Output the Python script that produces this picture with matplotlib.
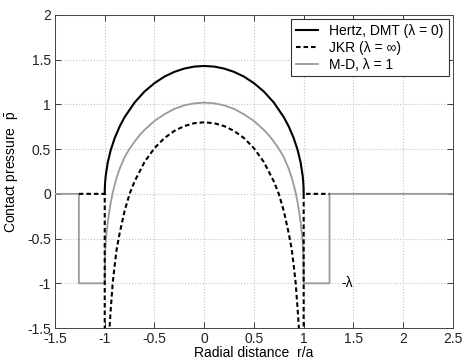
import numpy as np
import matplotlib
matplotlib.use("Agg")
import matplotlib.pyplot as plt

plt.rcParams['font.family'] = ['Liberation Sans', 'DejaVu Sans']
plt.rcParams['mathtext.fontset'] = 'custom'
plt.rcParams['mathtext.rm'] = 'Liberation Sans'

# half profiles (r >= 0); the curves are symmetric about r = 0
r_hertz = [0, 0.1, 0.2, 0.3, 0.4, 0.5, 0.6, 0.7, 0.8, 0.85, 0.9, 0.94, 0.97, 0.99, 0.995, 0.999, 1.0]
p_hertz = [1.43, 1.423, 1.401, 1.364, 1.311, 1.238, 1.144, 1.021, 0.858, 0.753, 0.623, 0.488, 0.348, 0.202, 0.143, 0.064, 0.0]

r_jkr = [0, 0.1, 0.2, 0.3, 0.4, 0.5, 0.6, 0.7, 0.75, 0.8, 0.85, 0.88, 0.9, 0.92, 0.94, 0.955, 0.97]
p_jkr = [0.80, 0.79, 0.758, 0.704, 0.624, 0.511, 0.356, 0.139, 0.0, -0.19, -0.44, -0.62, -0.80, -1.0, -1.3, -1.55, -2.2]

r_md = [0, 0.1, 0.2, 0.3, 0.4, 0.5, 0.6, 0.65, 0.7, 0.75, 0.8, 0.85, 0.88, 0.9, 0.92, 0.94, 0.96, 0.98, 0.99, 0.997, 1.0]
p_md = [1.02, 1.012, 0.99, 0.95, 0.89, 0.815, 0.715, 0.655, 0.585, 0.505, 0.41, 0.28, 0.18, 0.10, 0.01, -0.10, -0.24, -0.42, -0.54, -0.70, -1.0]

lam = 1.0      # adhesive stress in the M-D zone
c_md = 1.26    # outer radius of the M-D adhesive zone
x_lo, x_hi = -1.5, 2.5


def mirror(r, p):
    r = np.asarray(r, float)
    p = np.asarray(p, float)
    return np.concatenate([-r[::-1], r[1:]]), np.concatenate([p[::-1], p[1:]])


xh, yh = mirror(r_hertz, p_hertz)
xj, yj = mirror(r_jkr, p_jkr)
xm, ym = mirror(r_md, p_md)

# JKR: zero outside, infinite tension at the contact edge
xj = np.concatenate([[-c_md, -1, -1], xj, [1, 1, c_md]])
yj = np.concatenate([[0, 0, -2.5], yj, [-2.5, 0, 0]])

# M-D: constant tension -lambda between a and c
xm = np.concatenate([[x_lo, -c_md, -c_md, -1], xm, [1, c_md, c_md, x_hi]])
ym = np.concatenate([[0, 0, -lam, -lam], ym, [-lam, -lam, 0, 0]])

fig = plt.figure(figsize=(4.64, 3.63), dpi=100)
ax = fig.add_axes([0.1185, 0.0964, 0.8575, 0.8623])

l1, = ax.plot(xh, yh, color='black', lw=1.5, zorder=3, label='Hertz, DMT (λ = 0)')
l3, = ax.plot(xm, ym, color='#9a9a9a', lw=1.3, zorder=3, label='M-D, λ = 1')
l2, = ax.plot(xj, yj, color='black', lw=1.5, ls=(0, (2.2, 1.4)), zorder=4, label='JKR (λ = ∞)')

ax.text(1.38, -1.0, '-λ', fontsize=10, va='center', ha='left')

ax.set_xlim(x_lo, x_hi)
ax.set_ylim(-1.5, 2)
ax.set_xticks(np.arange(-1.5, 2.51, 0.5))
ax.set_yticks(np.arange(-1.5, 2.01, 0.5))
ax.set_xticklabels(['-1.5', '-1', '-0.5', '0', '0.5', '1', '1.5', '2', '2.5'])
ax.set_yticklabels(['-1.5', '-1', '-0.5', '0', '0.5', '1', '1.5', '2'])
ax.tick_params(direction='in', length=4, width=0.6, top=True, right=True,
               labelsize=10, pad=3, colors='#222222')
ax.grid(True, ls=':', color='#c4c4c4', lw=0.8)
for s in ax.spines.values():
    s.set_linewidth(0.7)
    s.set_color('#444444')

ax.set_xlabel('Radial distance  r/a', fontsize=10, labelpad=0)
ax.set_ylabel(r'Contact pressure  $\bar{\mathrm{p}}$', fontsize=10, labelpad=4)

leg = ax.legend(handles=[l1, l2, l3], loc='upper right', fontsize=10,
                handlelength=1.6, handletextpad=0.8, labelspacing=0.2,
                borderaxespad=0.3, borderpad=0.35, fancybox=False, framealpha=1)
leg.get_frame().set_edgecolor('#333333')
leg.get_frame().set_linewidth(0.8)

fig.savefig('out.png', dpi=100)
